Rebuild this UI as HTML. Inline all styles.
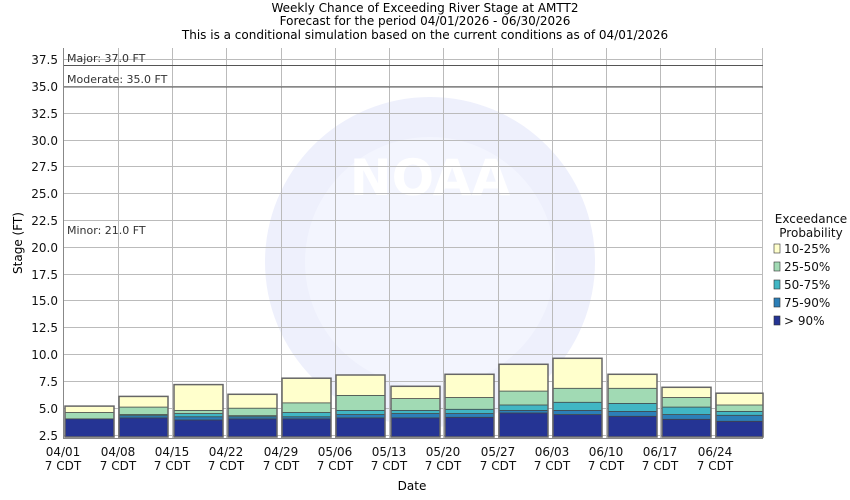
<!DOCTYPE html>
<html><head><meta charset="utf-8"><style>
body{margin:0;background:#fff;}
svg{display:block;font-family:"DejaVu Sans","Liberation Sans",sans-serif;}
</style></head><body>
<svg width="850" height="500" xmlns="http://www.w3.org/2000/svg">
<rect width="850" height="500" fill="#fff"/>
<text x="425" y="12" font-size="12" text-anchor="middle">Weekly Chance of Exceeding River Stage at AMTT2</text>
<text x="425" y="25" font-size="12" text-anchor="middle">Forecast for the period 04/01/2026 - 06/30/2026</text>
<text x="425" y="39" font-size="12" text-anchor="middle">This is a conditional simulation based on the current conditions as of 04/01/2026</text>
<circle cx="430" cy="262" r="165" fill="#eef0fc"/>
<circle cx="430" cy="262" r="125" fill="#f3f5fe"/>
<text x="430" y="195" font-size="50" font-weight="bold" fill="#fff" text-anchor="middle">NOAA</text>
<g stroke="#bbb" stroke-width="1">
<line x1="63" x2="763" y1="59.5" y2="59.5"/><line x1="63" x2="763" y1="86.5" y2="86.5"/><line x1="63" x2="763" y1="113.5" y2="113.5"/><line x1="63" x2="763" y1="140.5" y2="140.5"/><line x1="63" x2="763" y1="166.5" y2="166.5"/><line x1="63" x2="763" y1="193.5" y2="193.5"/><line x1="63" x2="763" y1="220.5" y2="220.5"/><line x1="63" x2="763" y1="247.5" y2="247.5"/><line x1="63" x2="763" y1="274.5" y2="274.5"/><line x1="63" x2="763" y1="300.5" y2="300.5"/><line x1="63" x2="763" y1="327.5" y2="327.5"/><line x1="63" x2="763" y1="354.5" y2="354.5"/><line x1="63" x2="763" y1="381.5" y2="381.5"/><line x1="63" x2="763" y1="408.5" y2="408.5"/><line x1="63" x2="763" y1="435.5" y2="435.5"/>
<line x1="118.5" x2="118.5" y1="48" y2="438"/><line x1="172.5" x2="172.5" y1="48" y2="438"/><line x1="226.5" x2="226.5" y1="48" y2="438"/><line x1="281.5" x2="281.5" y1="48" y2="438"/><line x1="335.5" x2="335.5" y1="48" y2="438"/><line x1="389.5" x2="389.5" y1="48" y2="438"/><line x1="443.5" x2="443.5" y1="48" y2="438"/><line x1="498.5" x2="498.5" y1="48" y2="438"/><line x1="552.5" x2="552.5" y1="48" y2="438"/><line x1="606.5" x2="606.5" y1="48" y2="438"/><line x1="660.5" x2="660.5" y1="48" y2="438"/><line x1="715.5" x2="715.5" y1="48" y2="438"/><line x1="762.5" x2="762.5" y1="48" y2="438"/>
</g>
<g stroke="#444" stroke-width="0.8">
<g fill="#ffffcc">
<rect x="65" y="406.1" width="49" height="30.9"/><rect x="119" y="396.4" width="49" height="40.6"/><rect x="174" y="384.6" width="49" height="52.4"/><rect x="228" y="394.3" width="49" height="42.7"/><rect x="282" y="378.2" width="49" height="58.8"/><rect x="336" y="375" width="49" height="62"/><rect x="391" y="386.3" width="49" height="50.7"/><rect x="445" y="374.3" width="49" height="62.7"/><rect x="499" y="364.3" width="49" height="72.7"/><rect x="553" y="358.3" width="49" height="78.7"/><rect x="608" y="374.3" width="49" height="62.7"/><rect x="662" y="387.3" width="49" height="49.7"/><rect x="716" y="393.2" width="47" height="43.8"/>
</g>
<g fill="#a1dab4">
<rect x="65" y="412.5" width="49" height="24.5"/><rect x="119" y="407.1" width="49" height="29.9"/><rect x="174" y="410.4" width="49" height="26.6"/><rect x="228" y="408.2" width="49" height="28.8"/><rect x="282" y="402.9" width="49" height="34.1"/><rect x="336" y="395.4" width="49" height="41.6"/><rect x="391" y="398.6" width="49" height="38.4"/><rect x="445" y="397.5" width="49" height="39.5"/><rect x="499" y="391.1" width="49" height="45.9"/><rect x="553" y="388.3" width="49" height="48.7"/><rect x="608" y="388.3" width="49" height="48.7"/><rect x="662" y="397.5" width="49" height="39.5"/><rect x="716" y="405" width="47" height="32"/>
</g>
<g fill="#41b6c4">
<rect x="65" y="418.9" width="49" height="18.1"/><rect x="119" y="414.6" width="49" height="22.4"/><rect x="174" y="413.6" width="49" height="23.4"/><rect x="228" y="415.7" width="49" height="21.3"/><rect x="282" y="412.5" width="49" height="24.5"/><rect x="336" y="410.4" width="49" height="26.6"/><rect x="391" y="410.4" width="49" height="26.6"/><rect x="445" y="409.3" width="49" height="27.7"/><rect x="499" y="405" width="49" height="32"/><rect x="553" y="402.3" width="49" height="34.7"/><rect x="608" y="403.4" width="49" height="33.6"/><rect x="662" y="407.1" width="49" height="29.9"/><rect x="716" y="411.4" width="47" height="25.6"/>
</g>
<g fill="#2c7fb8">
<rect x="65" y="418.9" width="49" height="18.1"/><rect x="119" y="415.7" width="49" height="21.3"/><rect x="174" y="416.8" width="49" height="20.2"/><rect x="228" y="416.8" width="49" height="20.2"/><rect x="282" y="416.8" width="49" height="20.2"/><rect x="336" y="414.6" width="49" height="22.4"/><rect x="391" y="413.6" width="49" height="23.4"/><rect x="445" y="413.6" width="49" height="23.4"/><rect x="499" y="410.4" width="49" height="26.6"/><rect x="553" y="410.4" width="49" height="26.6"/><rect x="608" y="411.4" width="49" height="25.6"/><rect x="662" y="414.6" width="49" height="22.4"/><rect x="716" y="415.3" width="47" height="21.7"/>
</g>
<g fill="#253494">
<rect x="65" y="418.9" width="49" height="18.1"/><rect x="119" y="417.9" width="49" height="19.1"/><rect x="174" y="420" width="49" height="17"/><rect x="228" y="418.9" width="49" height="18.1"/><rect x="282" y="418.9" width="49" height="18.1"/><rect x="336" y="417.9" width="49" height="19.1"/><rect x="391" y="417.9" width="49" height="19.1"/><rect x="445" y="417.3" width="49" height="19.7"/><rect x="499" y="413" width="49" height="24"/><rect x="553" y="414.6" width="49" height="22.4"/><rect x="608" y="416.3" width="49" height="20.7"/><rect x="662" y="419.3" width="49" height="17.7"/><rect x="716" y="421.3" width="47" height="15.7"/>
</g>
</g>
<g fill="none" stroke="#666" stroke-width="1.5">
<rect x="65" y="406.1" width="49" height="30.9"/><rect x="119" y="396.4" width="49" height="40.6"/><rect x="174" y="384.6" width="49" height="52.4"/><rect x="228" y="394.3" width="49" height="42.7"/><rect x="282" y="378.2" width="49" height="58.8"/><rect x="336" y="375" width="49" height="62"/><rect x="391" y="386.3" width="49" height="50.7"/><rect x="445" y="374.3" width="49" height="62.7"/><rect x="499" y="364.3" width="49" height="72.7"/><rect x="553" y="358.3" width="49" height="78.7"/><rect x="608" y="374.3" width="49" height="62.7"/><rect x="662" y="387.3" width="49" height="49.7"/><rect x="716" y="393.2" width="47" height="43.8"/>
</g>
<line x1="63" y1="65.5" x2="763" y2="65.5" stroke="#555"/>
<line x1="63" y1="87" x2="763" y2="87" stroke="#555"/>
<text x="67" y="62" font-size="11" fill="#333">Major: 37.0 FT</text>
<text x="67" y="83" font-size="11" fill="#333">Moderate: 35.0 FT</text>
<text x="67" y="234" font-size="11" fill="#333">Minor: 21.0 FT</text>
<line x1="63.5" y1="48" x2="63.5" y2="438" stroke="#888"/>
<line x1="63" y1="438.5" x2="763" y2="438.5" stroke="#888"/>
<g font-size="12" text-anchor="end" fill="#111">
<text x="58" y="64">37.5</text><text x="58" y="91">35.0</text><text x="58" y="118">32.5</text><text x="58" y="145">30.0</text><text x="58" y="171">27.5</text><text x="58" y="198">25.0</text><text x="58" y="225">22.5</text><text x="58" y="252">20.0</text><text x="58" y="279">17.5</text><text x="58" y="305">15.0</text><text x="58" y="332">12.5</text><text x="58" y="359">10.0</text><text x="58" y="386">7.5</text><text x="58" y="413">5.0</text><text x="58" y="440">2.5</text>
</g>
<g font-size="12" text-anchor="middle" fill="#111">
<text x="63" y="456">04/01</text><text x="63" y="470">7 CDT</text>
<text x="118" y="456">04/08</text><text x="118" y="470">7 CDT</text>
<text x="172" y="456">04/15</text><text x="172" y="470">7 CDT</text>
<text x="226" y="456">04/22</text><text x="226" y="470">7 CDT</text>
<text x="281" y="456">04/29</text><text x="281" y="470">7 CDT</text>
<text x="335" y="456">05/06</text><text x="335" y="470">7 CDT</text>
<text x="389" y="456">05/13</text><text x="389" y="470">7 CDT</text>
<text x="443" y="456">05/20</text><text x="443" y="470">7 CDT</text>
<text x="498" y="456">05/27</text><text x="498" y="470">7 CDT</text>
<text x="552" y="456">06/03</text><text x="552" y="470">7 CDT</text>
<text x="606" y="456">06/10</text><text x="606" y="470">7 CDT</text>
<text x="660" y="456">06/17</text><text x="660" y="470">7 CDT</text>
<text x="715" y="456">06/24</text><text x="715" y="470">7 CDT</text>
</g>
<text x="412" y="490" font-size="12" text-anchor="middle">Date</text>
<text transform="translate(22,243) rotate(-90)" font-size="12" text-anchor="middle">Stage (FT)</text>
<g font-size="12" fill="#111">
<text x="811" y="223" text-anchor="middle">Exceedance</text>
<text x="811" y="237" text-anchor="middle">Probability</text>
<rect x="774" y="244" width="6" height="9" fill="#ffffcc" stroke="#333" stroke-width="0.6"/><text x="784" y="253">10-25%</text>
<rect x="774" y="262" width="6" height="9" fill="#a1dab4" stroke="#333" stroke-width="0.6"/><text x="784" y="271">25-50%</text>
<rect x="774" y="280" width="6" height="9" fill="#41b6c4" stroke="#333" stroke-width="0.6"/><text x="784" y="289">50-75%</text>
<rect x="774" y="298" width="6" height="9" fill="#2c7fb8" stroke="#333" stroke-width="0.6"/><text x="784" y="307">75-90%</text>
<rect x="774" y="316" width="6" height="9" fill="#253494" stroke="#333" stroke-width="0.6"/><text x="784" y="325">&gt; 90%</text>
</g>
</svg>
</body></html>
